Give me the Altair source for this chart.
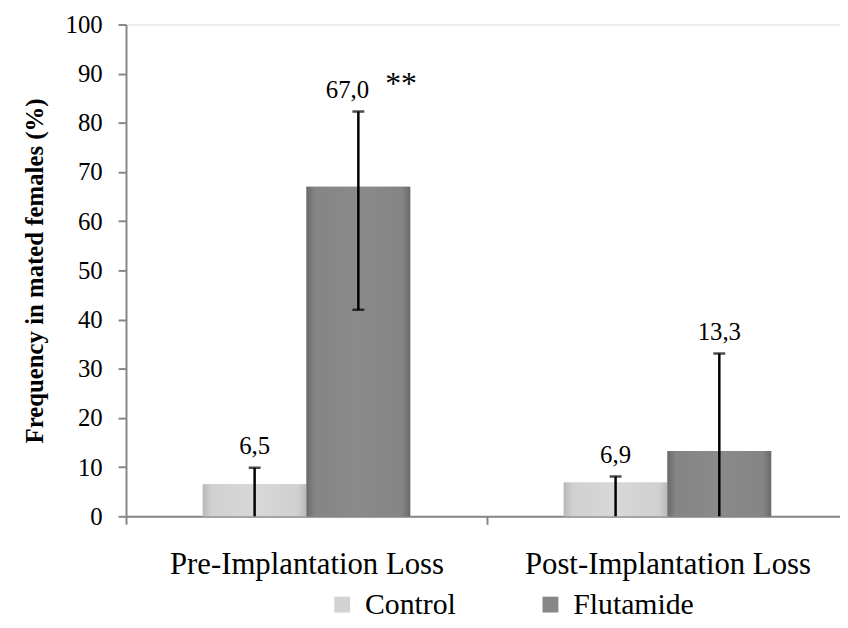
import altair as alt
import pandas as pd

categories = ["Pre-Implantation Loss", "Post-Implantation Loss"]
groups = ["Control", "Flutamide"]
control_values = [6.5, 6.9]
flutamide_values = [67.0, 13.3]
control_err_low = [0.0, 0.0]
control_err_high = [9.9, 8.1]
flutamide_err_low = [42.0, 0.0]
flutamide_err_high = [82.3, 33.1]
control_labels = ["6,5", "6,9"]
flutamide_labels = ["67,0", "13,3"]
flutamide_signif = ["**", ""]

rows = []
for i, c in enumerate(categories):
    rows.append(dict(cat=c, grp="Control", v=control_values[i], lo=control_err_low[i],
                     hi=control_err_high[i], lab=control_labels[i], sig=""))
    rows.append(dict(cat=c, grp="Flutamide", v=flutamide_values[i], lo=flutamide_err_low[i],
                     hi=flutamide_err_high[i], lab=flutamide_labels[i], sig=flutamide_signif[i]))
df = pd.DataFrame(rows)

FONT = "Liberation Serif"

x = alt.X("cat:N", sort=categories, title=None,
          scale=alt.Scale(paddingInner=0, paddingOuter=0, range=[0, 728]),
          axis=alt.Axis(labelFont=FONT, labelFontSize=31, labelColor="black", labelAngle=0,
                        labelPadding=26, labelLimit=0, domainColor="#868686", domainWidth=2,
                        tickColor="#868686", tickWidth=2, tickSize=8, tickBand="extent"))
xo = alt.XOffset("grp:N", sort=groups,
                 scale=alt.Scale(paddingInner=0, paddingOuter=0.74))
y = alt.Y("v:Q", title="Frequency in mated females (%)",
          scale=alt.Scale(domain=[0, 100], nice=False),
          axis=alt.Axis(values=list(range(0, 101, 10)), grid=False, labelFont=FONT,
                        labelFontSize=25, labelColor="black", labelPadding=16,
                        domainColor="#868686", domainWidth=2, tickColor="#868686",
                        tickWidth=2, tickSize=8, titleFont=FONT, titleFontSize=25,
                        titleFontWeight="bold", titleColor="black", titlePadding=18))

base = alt.Chart(df)

bars = base.mark_bar(stroke=None).encode(
    x=x, xOffset=xo, y=y,
    color=alt.Color("grp:N", sort=groups, title=None,
                    scale=alt.Scale(domain=groups, range=["#d3d3d3", "#878787"]),
                    legend=alt.Legend(orient="none", legendX=203, legendY=570, direction="horizontal",
                                      symbolType="square", symbolSize=256, symbolStrokeWidth=0,
                                      labelFont=FONT, labelFontSize=30, labelColor="black",
                                      columnPadding=80, labelOffset=8, padding=0)),
)

def bevel(grp, light, mid, dark):
    return base.transform_filter(alt.datum.grp == grp).mark_bar(
        fill=alt.Gradient(gradient="linear", x1=0, x2=1, y1=0, y2=0,
                          stops=[alt.GradientStop(color=dark, offset=0),
                                 alt.GradientStop(color=mid, offset=0.08),
                                 alt.GradientStop(color=light, offset=0.5),
                                 alt.GradientStop(color=mid, offset=0.92),
                                 alt.GradientStop(color=dark, offset=1)])
    ).encode(x=x, xOffset=xo, y=y)

bev_c = bevel("Control", "#d8d8d8", "#d0d0d0", "#b8b8b8")
bev_f = bevel("Flutamide", "#8a8a8a", "#858585", "#6a6a6a")

rules = base.mark_rule(color="black", strokeWidth=2.5).encode(
    x=x, xOffset=xo, y=alt.Y("lo:Q"), y2="hi:Q")
cap_hi = base.mark_tick(color="black", thickness=2.5, size=12, orient="horizontal").encode(
    x=x, xOffset=xo, y=alt.Y("hi:Q"))
cap_lo = base.transform_filter(alt.datum.lo > 0).mark_tick(
    color="black", thickness=2.5, size=12, orient="horizontal").encode(
    x=x, xOffset=xo, y=alt.Y("lo:Q"))

labels_plain = base.transform_filter(alt.datum.sig == "").mark_text(
    font=FONT, fontSize=25, color="black", baseline="alphabetic", dy=-14).encode(
    x=x, xOffset=xo, y=alt.Y("hi:Q"), text="lab:N")
labels_sig = base.transform_filter(alt.datum.sig != "").mark_text(
    font=FONT, fontSize=25, color="black", baseline="alphabetic", dy=-14, dx=-11).encode(
    x=x, xOffset=xo, y=alt.Y("hi:Q"), text="lab:N")
sig = base.transform_filter(alt.datum.sig != "").mark_text(
    font=FONT, fontSize=32, color="black", baseline="alphabetic", dy=-18, dx=43).encode(
    x=x, xOffset=xo, y=alt.Y("hi:Q"), text="sig:N")

chart = alt.layer(bars, bev_c, bev_f, rules, cap_hi, cap_lo, labels_plain, labels_sig, sig).properties(
    width=720, height=496,
    autosize=alt.AutoSizeParams(type="none"),
    padding={"left": 119, "top": 14, "right": 0, "bottom": 110},
).configure_view(stroke=None).configure(background="white", font=FONT).configure_axis(
    labelFont=FONT, titleFont=FONT).configure_legend(labelFont=FONT)

chart.save("out.html", embed_options={"renderer": "svg", "actions": False})
